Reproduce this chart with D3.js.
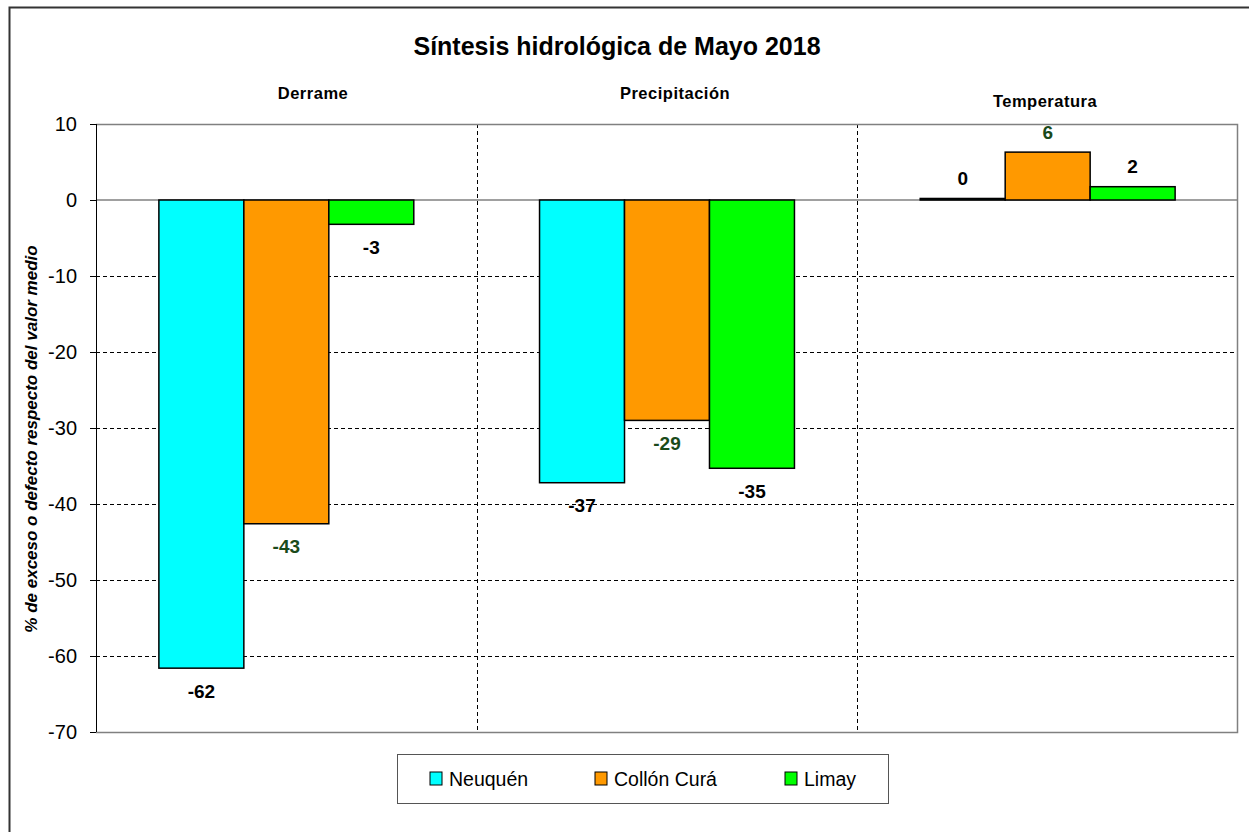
<!DOCTYPE html>
<html>
<head>
<meta charset="utf-8">
<script src="https://cdn.jsdelivr.net/npm/d3@7"></script>
<style>
  body { margin: 0; background: #fff; }
  svg { font-family: "Liberation Sans", Arial, sans-serif; }
</style>
</head>
<body>
<svg id="chart" width="1249" height="832"></svg>
<script>
// chart data
const categories = ["Derrame", "Precipitación", "Temperatura"];
const series = ["Neuquén", "Collón Curá", "Limay"];
const neuquen = [-61.6, -37.2, 0.2];
const collonCura = [-42.6, -29.0, 6.3];
const limay = [-3.2, -35.3, 1.75];
const yTicks = [10, 0, -10, -20, -30, -40, -50, -60, -70];

const colors = ["#00ffff", "#ff9900", "#00ff00"];
const labelColors = ["#000000", "#1a4a1a", "#000000"];
const seriesValues = [neuquen, collonCura, limay];

const width = 1249, height = 832;
const margin = { top: 124, right: 11, bottom: 100, left: 96 };
const plotW = width - margin.left - margin.right;
const plotH = height - margin.top - margin.bottom;

const svg = d3.select("#chart");

// outer frame
svg.append("rect")
    .attr("x", 9.5).attr("y", 7.5)
    .attr("width", 1260).attr("height", 840)
    .attr("fill", "none")
    .attr("stroke", "#333")
    .attr("stroke-width", 2);

const x0 = d3.scaleBand()
    .domain(categories)
    .range([0, plotW])
    .padding(0);

const x1 = d3.scaleBand()
    .domain(series)
    .range([0, x0.bandwidth()])
    .paddingInner(0)
    .paddingOuter(0.74);

const y = d3.scaleLinear()
    .domain([-70, 10])
    .range([plotH, 0]);

const g = svg.append("g")
    .attr("transform", `translate(${margin.left},${margin.top})`);

// horizontal dashed grid
g.append("g")
    .selectAll("line")
    .data(yTicks.filter(d => d !== 10 && d !== 0 && d !== -70))
    .enter()
    .append("line")
    .attr("x1", 0).attr("x2", plotW)
    .attr("y1", d => Math.round(y(d)) + 0.5)
    .attr("y2", d => Math.round(y(d)) + 0.5)
    .attr("stroke", "#000")
    .attr("stroke-dasharray", "4,3");

// vertical dashed separators between categories
g.append("g")
    .selectAll("line")
    .data(categories.slice(1))
    .enter()
    .append("line")
    .attr("x1", d => Math.round(x0(d)) + 0.5)
    .attr("x2", d => Math.round(x0(d)) + 0.5)
    .attr("y1", 0).attr("y2", plotH)
    .attr("stroke", "#000")
    .attr("stroke-dasharray", "4,3");

// plot border (top, right, bottom)
g.append("path")
    .attr("d", `M0,0.5H${plotW - 0.5}V${plotH + 0.5}H0`)
    .attr("fill", "none")
    .attr("stroke", "#808080")
    .attr("stroke-width", 1.5);

// zero line
g.append("line")
    .attr("x1", 0).attr("x2", plotW)
    .attr("y1", y(0)).attr("y2", y(0))
    .attr("stroke", "#808080")
    .attr("stroke-width", 1.5);

// bars
const rows = [];
categories.forEach((c, ci) => {
    series.forEach((s, si) => {
        rows.push({ cat: c, ser: s, si: si, value: seriesValues[si][ci] });
    });
});

g.append("g")
    .selectAll("rect")
    .data(rows)
    .enter()
    .append("rect")
    .attr("x", d => x0(d.cat) + x1(d.ser))
    .attr("width", x1.bandwidth())
    .attr("y", d => y(Math.max(0, d.value)))
    .attr("height", d => Math.abs(y(d.value) - y(0)))
    .attr("fill", d => colors[d.si])
    .attr("stroke", "#000")
    .attr("stroke-width", 1.5);

// value labels
g.append("g")
    .selectAll("text")
    .data(rows)
    .enter()
    .append("text")
    .attr("x", d => x0(d.cat) + x1(d.ser) + x1.bandwidth() / 2)
    .attr("y", d => d.value < 0 ? y(d.value) + 23 : y(d.value) - 20)
    .attr("dy", "0.35em")
    .attr("text-anchor", "middle")
    .attr("font-size", 19)
    .attr("font-weight", "bold")
    .attr("fill", d => labelColors[d.si])
    .text(d => String(Math.round(d.value)));

// y axis
const yAxis = g.append("g")
    .call(d3.axisLeft(y).tickValues(yTicks).tickSize(6).tickPadding(13).tickFormat(d => String(d)));
yAxis.select(".domain").attr("stroke", "#000").attr("d", `M0.5,0V${plotH}`);
yAxis.selectAll(".tick line").attr("stroke", "#000");
yAxis.selectAll(".tick text")
    .attr("font-size", 20)
    .attr("font-family", "Liberation Sans, Arial, sans-serif")
    .attr("fill", "#000");

// y axis title
svg.append("text")
    .attr("transform", `translate(37,${margin.top + plotH / 2 + 11}) rotate(-90)`)
    .attr("text-anchor", "middle")
    .attr("font-size", 17)
    .attr("font-weight", "bold")
    .attr("font-style", "italic")
    .text("% de exceso o defecto respecto del valor medio");

// main title
svg.append("text")
    .attr("x", 617).attr("y", 55)
    .attr("text-anchor", "middle")
    .attr("font-size", 25)
    .attr("font-weight", "bold")
    .text("Síntesis hidrológica de Mayo 2018");

// category headings
const headingPos = [[313, 99], [675, 99], [1045, 107]];
svg.append("g")
    .selectAll("text")
    .data(categories)
    .enter()
    .append("text")
    .attr("x", (d, i) => headingPos[i][0])
    .attr("y", (d, i) => headingPos[i][1])
    .attr("text-anchor", "middle")
    .attr("font-size", 16.5)
    .attr("font-weight", "bold")
    .attr("letter-spacing", 0.5)
    .text(d => d);

// legend
const legend = svg.append("g").attr("transform", "translate(397,754)");
legend.append("rect")
    .attr("x", 0.5).attr("y", 0.5)
    .attr("width", 491).attr("height", 49)
    .attr("fill", "#fff")
    .attr("stroke", "#555")
    .attr("stroke-width", 1);

const legendX = [33, 198, 388];
const items = legend.selectAll(".item")
    .data(series)
    .enter()
    .append("g")
    .attr("class", "item")
    .attr("transform", (d, i) => `translate(${legendX[i]},18)`);

items.append("rect")
    .attr("width", 12).attr("height", 13)
    .attr("fill", (d, i) => colors[i])
    .attr("stroke", "#000");

items.append("text")
    .attr("x", 19).attr("y", 7)
    .attr("dy", "0.35em")
    .attr("font-size", 19.5)
    .text(d => d);
</script>
</body>
</html>
